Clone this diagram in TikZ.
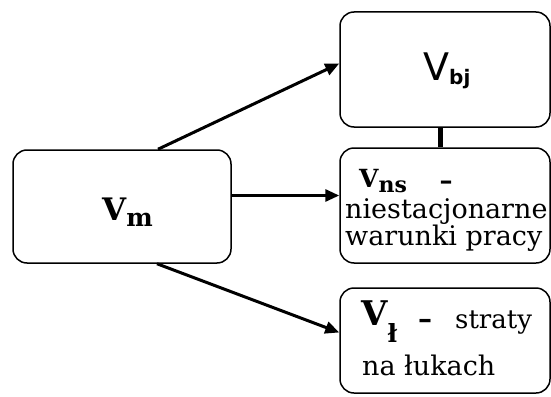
\documentclass[tikz,border=0pt]{standalone}
\usepackage{fontspec}
\setmainfont{DejaVu Serif}
\setsansfont{DejaVu Sans}
\usetikzlibrary{arrows.meta}

\begin{document}
\begin{tikzpicture}[x=1pt,y=-1pt,
		box/.style={draw,line width=1.5pt,rounded corners=14pt,inner sep=0pt},
		arr/.style={line width=3pt,-{Triangle[length=14pt,width=12pt]}},
		txt/.style={anchor=base west,inner sep=0pt},
		dashlab/.style={anchor=base,inner sep=0pt,text height=10pt,text depth=0pt}]
	\useasboundingbox (0,0) rectangle (551,396);
	% boxes
	\node[box,minimum width=218pt,minimum height=113pt] (vm) at (122,206.5) {};
	\node[box,minimum width=210pt,minimum height=115pt] (vbj) at (445,69.5) {};
	\node[box,minimum width=210pt,minimum height=115pt] (vns) at (445,205.5) {};
	\node[box,minimum width=210pt,minimum height=105pt] (vl) at (445,340.5) {};
	% connectors
	\draw[arr] ([xshift=36pt]vm.north) -- ([yshift=6pt]vbj.west);
	\draw[arr] ([yshift=11pt]vm.east) -- ([yshift=10pt]vns.west);
	\draw[arr] ([xshift=35pt]vm.south) -- ([yshift=8pt]vl.west);
	\draw[line width=5pt] ([xshift=-5pt]vbj.south) -- ([xshift=-5pt]vns.north);
	% texts
	\node[txt] (vmlab) at (102,220) {\fontsize{31}{31}\selectfont\bfseries V\raisebox{-6pt}{\fontsize{25}{25}\selectfont m}};
	\node[txt] (vbjlab) at (423,80) {\fontsize{38}{38}\selectfont\sffamily V\raisebox{-5pt}{\fontsize{20}{20}\selectfont\bfseries bj}};
	\node[txt,text height=18pt,text depth=5pt] (vnslab) at (359,187) {\fontsize{25}{25}\selectfont\bfseries V\raisebox{-5pt}{\fontsize{22}{22}\selectfont ns}};
	\node[dashlab] (vnsdash) at (446,189) {\fontsize{26}{26}\selectfont\bfseries –};
	\node[txt,text height=15pt,text depth=5pt] (nies) at (345,218) {\fontsize{27}{27}\selectfont niestacjonarne};
	\node[txt,text height=15pt,text depth=5pt] (warunki) at (345,245) {\fontsize{27}{27}\selectfont warunki pracy};
	\node[txt] (vllab) at (361,325) {\fontsize{34}{34}\selectfont\bfseries V\raisebox{-17pt}{\fontsize{25}{25}\selectfont ł}};
	\node[dashlab] (vldash) at (425,328) {\fontsize{28}{28}\selectfont\bfseries –};
	\node[txt] (straty) at (455,328) {\fontsize{26}{26}\selectfont straty};
	\node[txt] (lukach) at (362,375) {\fontsize{27}{27}\selectfont na łukach};
\end{tikzpicture}
\end{document}
